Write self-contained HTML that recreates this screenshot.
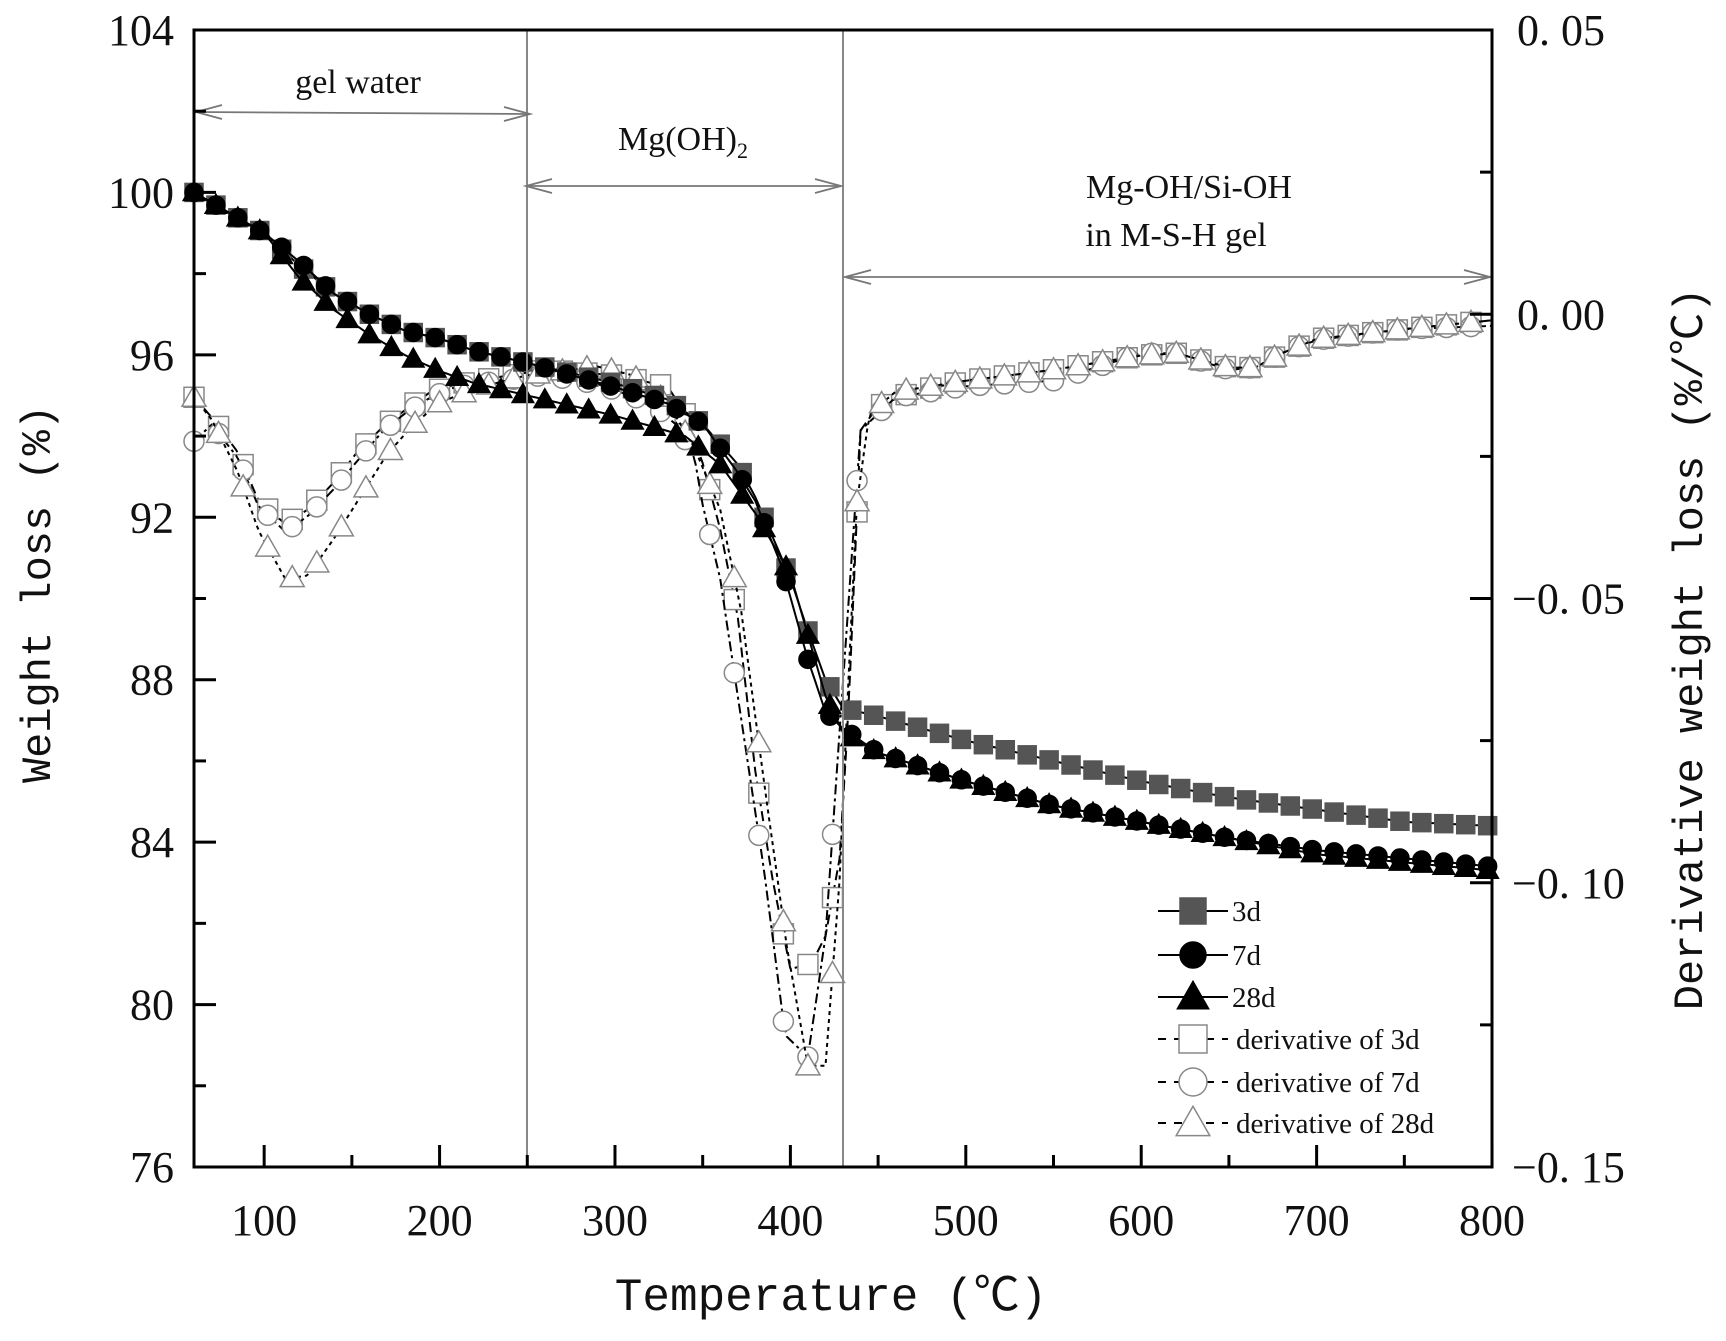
<!DOCTYPE html>
<html><head><meta charset="utf-8">
<style>
html,body{margin:0;padding:0;background:#fff;}
svg{display:block;}
text{font-family:"Liberation Serif",serif;fill:#111;}
.mono{font-family:"Liberation Mono","Noto Sans CJK SC",monospace;}
</style></head>
<body>
<svg id="s" width="1726" height="1341" viewBox="0 0 1726 1341" xmlns="http://www.w3.org/2000/svg">
<rect width="1726" height="1341" fill="#fff"/>
<g id="plot"></g>
<!-- region lines -->
<line x1="527" y1="30" x2="527" y2="1167" stroke="#888" stroke-width="2"/>
<line x1="843" y1="30" x2="843" y2="1167" stroke="#888" stroke-width="2"/>
<!-- arrows -->
<g stroke="#777" stroke-width="1.8" fill="none">
<line x1="196" y1="112" x2="530" y2="114"/><polyline points="222,105 196,112 222,119"/><polyline points="504,107 530,114 504,121"/>
<line x1="526" y1="186" x2="841" y2="186"/><polyline points="552,179 526,186 552,193"/><polyline points="815,179 841,186 815,193"/>
<line x1="845" y1="277" x2="1490" y2="277"/><polyline points="871,270 845,277 871,284"/><polyline points="1464,270 1490,277 1464,284"/>
</g>
<text x="358" y="93" font-size="34" text-anchor="middle">gel water</text>
<text x="683" y="150" font-size="34" text-anchor="middle">Mg(OH)<tspan font-size="22" dy="8">2</tspan></text>
<text x="1189" y="198" font-size="34" text-anchor="middle">Mg-OH/Si-OH</text>
<text x="1176" y="246" font-size="34" text-anchor="middle">in M-S-H gel</text>
<!-- frame -->
<rect x="194" y="30" width="1298" height="1137" fill="none" stroke="#000" stroke-width="3"/>
<g id="ticks" stroke="#000" stroke-width="3"></g>
<g id="labels" font-size="44"></g>
<text x="831" y="1310" font-size="46" text-anchor="middle" class="mono">Temperature (℃)</text>
<text transform="translate(50,594) rotate(-90)" font-size="42" text-anchor="middle" class="mono">Weight loss (%)</text>
<text transform="translate(1702,649) rotate(-90)" font-size="42" text-anchor="middle" class="mono">Derivative weight loss (%/℃)</text>
<g id="legend"></g>
</svg>
<script>
const NS="http://www.w3.org/2000/svg";
function el(p,t,a){const e=document.createElementNS(NS,t);for(const k in a)e.setAttribute(k,a[k]);p.appendChild(e);return e;}
const X=T=>194+(T-60)*1.7541;
const YL=w=>30+(104-w)*40.607;
const YD=yd=>30+(yd-26)*1.0996;
const plot=document.getElementById('plot');
function interp(pts,t){for(let i=0;i<pts.length-1;i++){if(t>=pts[i][0]&&t<=pts[i+1][0]){const f=(t-pts[i][0])/(pts[i+1][0]-pts[i][0]);return pts[i][1]+f*(pts[i+1][1]-pts[i][1]);}}return pts[pts.length-1][1];}
function marker(g,type,x,y,fill,stroke,s){
 if(type=='sq')el(g,'rect',{x:x-s/2,y:y-s/2,width:s,height:s,fill:fill,stroke:stroke,'stroke-width':1.5});
 else if(type=='ci')el(g,'circle',{cx:x,cy:y,r:s/2,fill:fill,stroke:stroke,'stroke-width':1.5});
 else el(g,'polygon',{points:`${x},${y-s*0.6} ${x-s*0.6},${y+s*0.45} ${x+s*0.6},${y+s*0.45}`,fill:fill,stroke:stroke,'stroke-width':1.5});
}
function series(pts,isDer,type,fill,stroke,dash,step,start){
 const g=el(plot,'g',{});
 let d='';
 for(let t=60;t<=800;t+=2){const v=interp(pts,t);const y=isDer?YD(v):YL(v);d+=(t==60?'M':'L')+X(t).toFixed(1)+','+y.toFixed(1);}
 el(g,'path',{d:d,fill:'none',stroke:'#000','stroke-width':2,'stroke-dasharray':dash||'none'});
 for(let t=start;t<=800;t+=step){const v=interp(pts,t);marker(g,type,X(t),isDer?YD(v):YL(v),fill,stroke,isDer?20:18);}
}
const d3=[[60,360],[70,378],[85,410],[97,455],[112,475],[125,462],[140,437],[152,412],[167,388],[180,372],[195,355],[210,348],[240,340],[260,335],[300,340],[330,350],[340,375],[350,420],[360,480],[370,560],[380,700],[390,800],[400,880],[412,875],[420,850],[428,780],[433,650],[440,390],[450,368],[470,355],[500,345],[550,335],[600,322],[620,320],[650,333],[665,333],[680,320],[700,307],[750,298],[800,290]];
const d7=[[60,400],[70,385],[85,415],[97,460],[112,482],[125,468],[140,443],[152,420],[167,392],[180,375],[195,360],[210,350],[260,340],[290,348],[320,365],[335,385],[345,412],[350,458],[360,525],[370,632],[385,790],[397,940],[410,960],[420,850],[428,665],[440,390],[460,360],[500,350],[550,345],[600,320],[620,320],[650,335],[665,333],[680,320],[700,308],[750,298],[800,295]];
const d28=[[60,360],[70,380],[85,428],[97,482],[112,525],[125,522],[140,488],[155,450],[170,412],[185,385],[200,365],[220,352],[250,340],[290,332],[310,340],[330,365],[345,405],[360,462],[372,555],[385,710],[398,860],[410,968],[420,968],[428,800],[433,620],[438,455],[445,375],[460,355],[500,345],[550,335],[600,322],[620,320],[650,333],[665,333],[680,320],[700,307],[750,298],[800,290]];
const t3=[[60,100],[80,99.5],[100,99],[120,98.2],[140,97.5],[160,97],[180,96.6],[200,96.4],[220,96.1],[250,95.8],[300,95.3],[330,94.9],[350,94.3],[370,93.3],[380,92.5],[390,91.5],[400,90.5],[410,89.2],[420,88],[430,87.3],[450,87.1],[500,86.5],[550,86],[600,85.5],[650,85.1],[700,84.8],[750,84.5],[800,84.4]];
const t7=[[60,100],[80,99.5],[100,99],[120,98.3],[140,97.5],[160,97],[180,96.6],[200,96.4],[220,96.1],[250,95.8],[300,95.2],[330,94.8],[350,94.3],[370,93.1],[380,92.4],[395,90.8],[410,88.5],[420,87.2],[430,86.8],[450,86.2],[500,85.5],[550,84.9],[600,84.5],[650,84.1],[700,83.8],[750,83.6],[800,83.4]];
const t28=[[60,100],[80,99.5],[100,99],[120,97.9],[140,97.1],[160,96.5],[180,96],[200,95.6],[220,95.3],[250,95],[300,94.5],[340,94],[360,93.3],[380,92.1],[400,90.6],[420,87.6],[430,86.7],[450,86.2],[500,85.5],[550,84.9],[600,84.5],[650,84.1],[700,83.7],[750,83.5],[800,83.3]];
series(d3,true,'sq','#fff','#888','10,5',14,60);
series(d7,true,'ci','#fff','#888','10,4,3,4',14,60);
series(d28,true,'tr','#fff','#888','4,4',14,60);
series(t3,false,'sq','#555','#555',null,12.5,60);
series(t7,false,'ci','#000','#000',null,12.5,60);
series(t28,false,'tr','#000','#000',null,12.5,60);
// ticks
const tk=document.getElementById('ticks'),lb=document.getElementById('labels');
for(let T=100;T<=800;T+=50){const x=X(T),L=T%100==0?22:12;el(tk,'line',{x1:x,y1:1167,x2:x,y2:1167-L});if(T%100==0){const t=el(lb,'text',{x:x,y:1235,'text-anchor':'middle'});t.textContent=T;}}
for(let w=76;w<=104;w+=2){const y=YL(w),L=w%4==0?22:12;el(tk,'line',{x1:194,y1:y,x2:194+L,y2:y});if(w%4==0){const t=el(lb,'text',{x:174,y:y+15,'text-anchor':'end'});t.textContent=w;}}
const dl=['0. 05','0. 00','\u22120. 05','\u22120. 10','\u22120. 15'];
for(let i=0;i<=8;i++){const y=30+i*1137/8,L=i%2==0?22:12;el(tk,'line',{x1:1492,y1:y,x2:1492-L,y2:y});if(i%2==0){const t=el(lb,'text',{x:i==0||i==2?1517:1512,y:y+15});t.textContent=dl[i/2];}}
// legend
const lg=document.getElementById('legend');
const rows=[['sq','#555','#555',null,'3d'],['ci','#000','#000',null,'7d'],['tr','#000','#000',null,'28d'],['sq','#fff','#888','8,8','derivative of 3d'],['ci','#fff','#888','8,8','derivative of 7d'],['tr','#fff','#888','8,8','derivative of 28d']];
const ys=[911,955,997,1039,1082,1123];
rows.forEach((r,i)=>{const y=ys[i];el(lg,'line',{x1:1158,y1:y,x2:1228,y2:y,stroke:'#000','stroke-width':2,'stroke-dasharray':r[3]||'none'});marker(lg,r[0],1193,y,r[1],r[2],i<3?26:28);const t=el(lg,'text',{x:i<3?1232:1236,y:y+10,'font-size':29});t.textContent=r[4];});
</script>
</body></html>
